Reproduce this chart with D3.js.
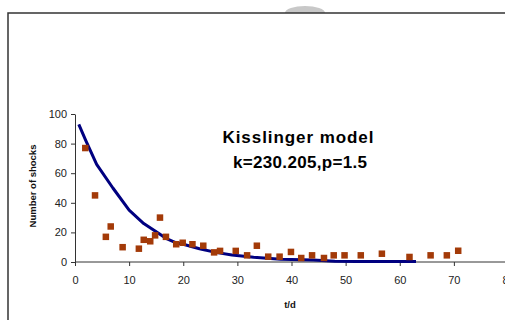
<!DOCTYPE html>
<html><head><meta charset="utf-8">
<script src="https://cdn.jsdelivr.net/npm/d3@7"></script>
<style>html,body{margin:0;padding:0;background:#fff;}svg{display:block;}</style>
</head><body>
<svg id="c" width="505" height="320"></svg>
<script>
const tObs = [1.9,3.7,5.7,6.6,8.8,11.8,12.7,13.9,14.8,15.7,16.8,18.7,19.9,21.7,23.7,25.7,26.8,29.7,31.8,33.6,35.7,37.8,39.9,41.8,43.8,46,47.8,49.8,52.8,56.7,61.8,65.7,68.7,70.8];
const nObs = [77,45,17,24,10,9,15,14,18,30,17,12,13,12,11,6.5,7.5,7.5,4.5,11,3.6,3.6,6.8,2.7,4.5,2.7,4.5,4.5,4.5,5.6,3.4,4.5,4.5,7.6];
const tModel = [0.7,2,4,7,10,12.7,14.8,16.8,18.7,20,23,26,29,33,38,44,48,52,57,63];
const nModel = [93,82,66,50,35,26,21,16,13,12,9,6.5,4.8,3.2,1.8,1.3,0.5,0.3,0.3,0.3];
const xTicks = [0,10,20,30,40,50,60,70,80];
const yTicks = [0,20,40,60,80,100];
const titleLines = ["Kisslinger model","k=230.205,p=1.5"];

const svg = d3.select("#c");
// decorative frame with a dome just above the top edge
svg.append("path").attr("d","M285,13A20,7 0 0 1 325,13Z").attr("fill","#c8c8c8");
svg.append("path").attr("d","M8,320V13H505").attr("fill","none").attr("stroke","#333").attr("stroke-width",1.5);

const x = d3.scaleLinear().domain([0,80]).range([75,508]);
const y = d3.scaleLinear().domain([0,100]).range([262,114]);

const font = "Arial, 'Liberation Sans', sans-serif";
const xa = svg.append("g").attr("transform","translate(0,262)")
  .call(d3.axisBottom(x).tickValues(xTicks).tickSize(4).tickSizeOuter(0).tickPadding(10).tickFormat(d3.format("d")));
const ya = svg.append("g").attr("transform","translate(75,0)")
  .call(d3.axisLeft(y).tickValues(yTicks).tickSize(4).tickSizeOuter(0).tickPadding(4).tickFormat(d3.format("d")));
[xa,ya].forEach(a=>{
  a.selectAll("path,line").attr("stroke","#333").attr("stroke-width",1);
  a.selectAll("text").attr("font-family",font).attr("font-size",11).attr("fill","#222");
});
xa.select("path.domain").attr("d","M75,0H505");

// model line
const pts = tModel.map((t,i)=>[t,nModel[i]]);
svg.append("path").datum(pts)
  .attr("d",d3.line().x(d=>x(d[0])).y(d=>y(d[1])))
  .attr("fill","none").attr("stroke","#000080").attr("stroke-width",3).attr("stroke-linejoin","round");

// observed squares
const s = 6.5;
svg.append("g").selectAll("rect").data(tObs.map((t,i)=>[t,nObs[i]])).join("rect")
  .attr("x",d=>x(d[0])-s/2).attr("y",d=>y(d[1])-s/2).attr("width",s).attr("height",s)
  .attr("fill","#a33a08");

// title
svg.append("text").attr("x",298).attr("y",143).attr("text-anchor","middle")
  .attr("font-family",font).attr("font-weight","bold").attr("font-size",17)
  .attr("textLength",151).attr("lengthAdjust","spacing").attr("fill","#000").text(titleLines[0]);
svg.append("text").attr("x",300).attr("y",168).attr("text-anchor","middle")
  .attr("font-family",font).attr("font-weight","bold").attr("font-size",17)
  .attr("textLength",134).attr("lengthAdjust","spacing").attr("fill","#000").text(titleLines[1]);

// axis titles
svg.append("text").attr("transform","translate(36,186) rotate(-90)").attr("text-anchor","middle")
  .attr("font-family",font).attr("font-weight","bold").attr("font-size",9.5).attr("fill","#111").text("Number of shocks");
svg.append("text").attr("x",290).attr("y",308).attr("text-anchor","middle")
  .attr("font-family",font).attr("font-weight","bold").attr("font-size",9.5).attr("fill","#111").text("t/d");
</script>
</body></html>
